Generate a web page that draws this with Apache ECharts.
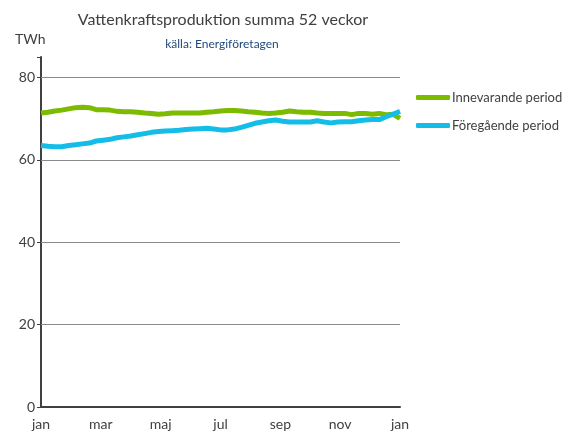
<!DOCTYPE html>
<html>
<head>
<meta charset="utf-8">
<script src="https://cdn.jsdelivr.net/npm/echarts@6/dist/echarts.min.js"></script>
<style>
  html, body { margin: 0; padding: 0; background: #fff; }
</style>
</head>
<body>
<div id="main" style="width:575px;height:440px;"></div>
<script>
// veckonummer 0..52, månadsetiketter varannan månad
let monthLabels = ['jan', 'mar', 'maj', 'jul', 'sep', 'nov', 'jan']
let seriesNames = ['Innevarande period', 'Föregående period']
let innevarande = [
    71.4, 71.6, 71.9, 72.1, 72.4, 72.7, 72.8, 72.7, 72.2, 72.2,
    72.1, 71.8, 71.7, 71.7, 71.6, 71.4, 71.3, 71.1, 71.2, 71.4,
    71.4, 71.4, 71.4, 71.4, 71.6, 71.7, 71.9, 72.0, 72.0, 71.9,
    71.7, 71.6, 71.4, 71.3, 71.4, 71.6, 71.9, 71.7, 71.6, 71.6,
    71.4, 71.3, 71.3, 71.3, 71.3, 71.0, 71.3, 71.3, 71.1, 71.3,
    71.0, 71.1, 70.1
]
let foregaende = [
    63.5, 63.3, 63.2, 63.2, 63.5, 63.7, 63.9, 64.1, 64.6, 64.8,
    65.0, 65.4, 65.6, 65.8, 66.1, 66.4, 66.7, 66.9, 67.0, 67.1,
    67.2, 67.4, 67.5, 67.6, 67.7, 67.5, 67.3, 67.3, 67.5, 67.9,
    68.4, 68.9, 69.2, 69.5, 69.7, 69.4, 69.2, 69.2, 69.2, 69.2,
    69.5, 69.2, 69.0, 69.2, 69.3, 69.3, 69.5, 69.7, 69.8, 69.8,
    70.5, 71.1, 71.8
]
let gridValues = [20, 40, 60, 80]
let myColor = ['#7cbb00', '#14bde8']

let font = 'Lato, "Open Sans", sans-serif'
let weeks = 52
let step = weeks / 6

function toPairs (arr) {
    return arr.map(function (v, i) { return [i, v] })
}

let option = {
    backgroundColor: '#ffffff',
    animation: false,
    title: [
        {
            text: 'Vattenkraftsproduktion summa 52 veckor',
            left: 218,
            top: 7,
            textAlign: 'center',
            textStyle: { fontFamily: font, fontSize: 16, fontWeight: 'normal', color: '#404040' },
        },
        {
            text: 'källa: Energiföretagen',
            left: 217,
            top: 33,
            textAlign: 'center',
            textStyle: { fontFamily: font, fontSize: 12, fontWeight: 'normal', color: '#1f497d' },
        },
        {
            text: 'TWh',
            left: 10,
            top: 27,
            textStyle: { fontFamily: font, fontSize: 14, fontWeight: 'normal', color: '#404040' },
        },
    ],
    legend: {
        orient: 'vertical',
        left: 411,
        top: 86,
        itemWidth: 34,
        itemHeight: 5,
        itemGap: 15,
        icon: 'roundRect',
        textStyle: { fontFamily: font, fontSize: 13, color: '#404040', padding: [0, 0, 0, -3] },
        data: seriesNames,
    },
    grid: {
        left: 41,
        right: 175,
        top: 57,
        bottom: 33,
    },
    xAxis: {
        type: 'value',
        min: 0,
        max: weeks,
        interval: step,
        axisLine: { lineStyle: { color: '#404040', width: 2 } },
        axisTick: { show: false },
        splitLine: { show: false },
        axisLabel: {
            fontFamily: font,
            fontSize: 14,
            color: '#404040',
            margin: 10,
            formatter: function (value) {
                return monthLabels[Math.round(value / step)]
            },
        },
    },
    yAxis: {
        type: 'value',
        min: 0,
        max: 85,
        interval: 20,
        axisLine: { show: true, lineStyle: { color: '#404040', width: 2 } },
        axisTick: { show: true, length: 4, lineStyle: { color: '#404040' } },
        splitLine: { show: false },
        axisLabel: {
            fontFamily: font,
            fontSize: 14,
            color: '#404040',
            margin: 6,
            formatter: function (value) {
                return value % 20 === 0 ? value : ''
            },
        },
    },
    series: [
        {
            name: seriesNames[0],
            type: 'line',
            data: toPairs(innevarande),
            symbol: 'none',
            color: myColor[0],
            lineStyle: { width: 5, color: myColor[0] },
            z: 3,
            markLine: {
                silent: true,
                symbol: 'none',
                label: { show: false },
                lineStyle: { type: 'solid', color: '#8a8a8a', width: 1 },
                data: gridValues.map(function (v) { return { yAxis: v } }),
                z: 1,
            },
        },
        {
            name: seriesNames[1],
            type: 'line',
            data: toPairs(foregaende),
            symbol: 'none',
            color: myColor[1],
            lineStyle: { width: 5, color: myColor[1] },
            z: 4,
        },
    ],
}

let myChart = echarts.init(document.getElementById('main'))
myChart.setOption(option)
</script>
</body>
</html>
